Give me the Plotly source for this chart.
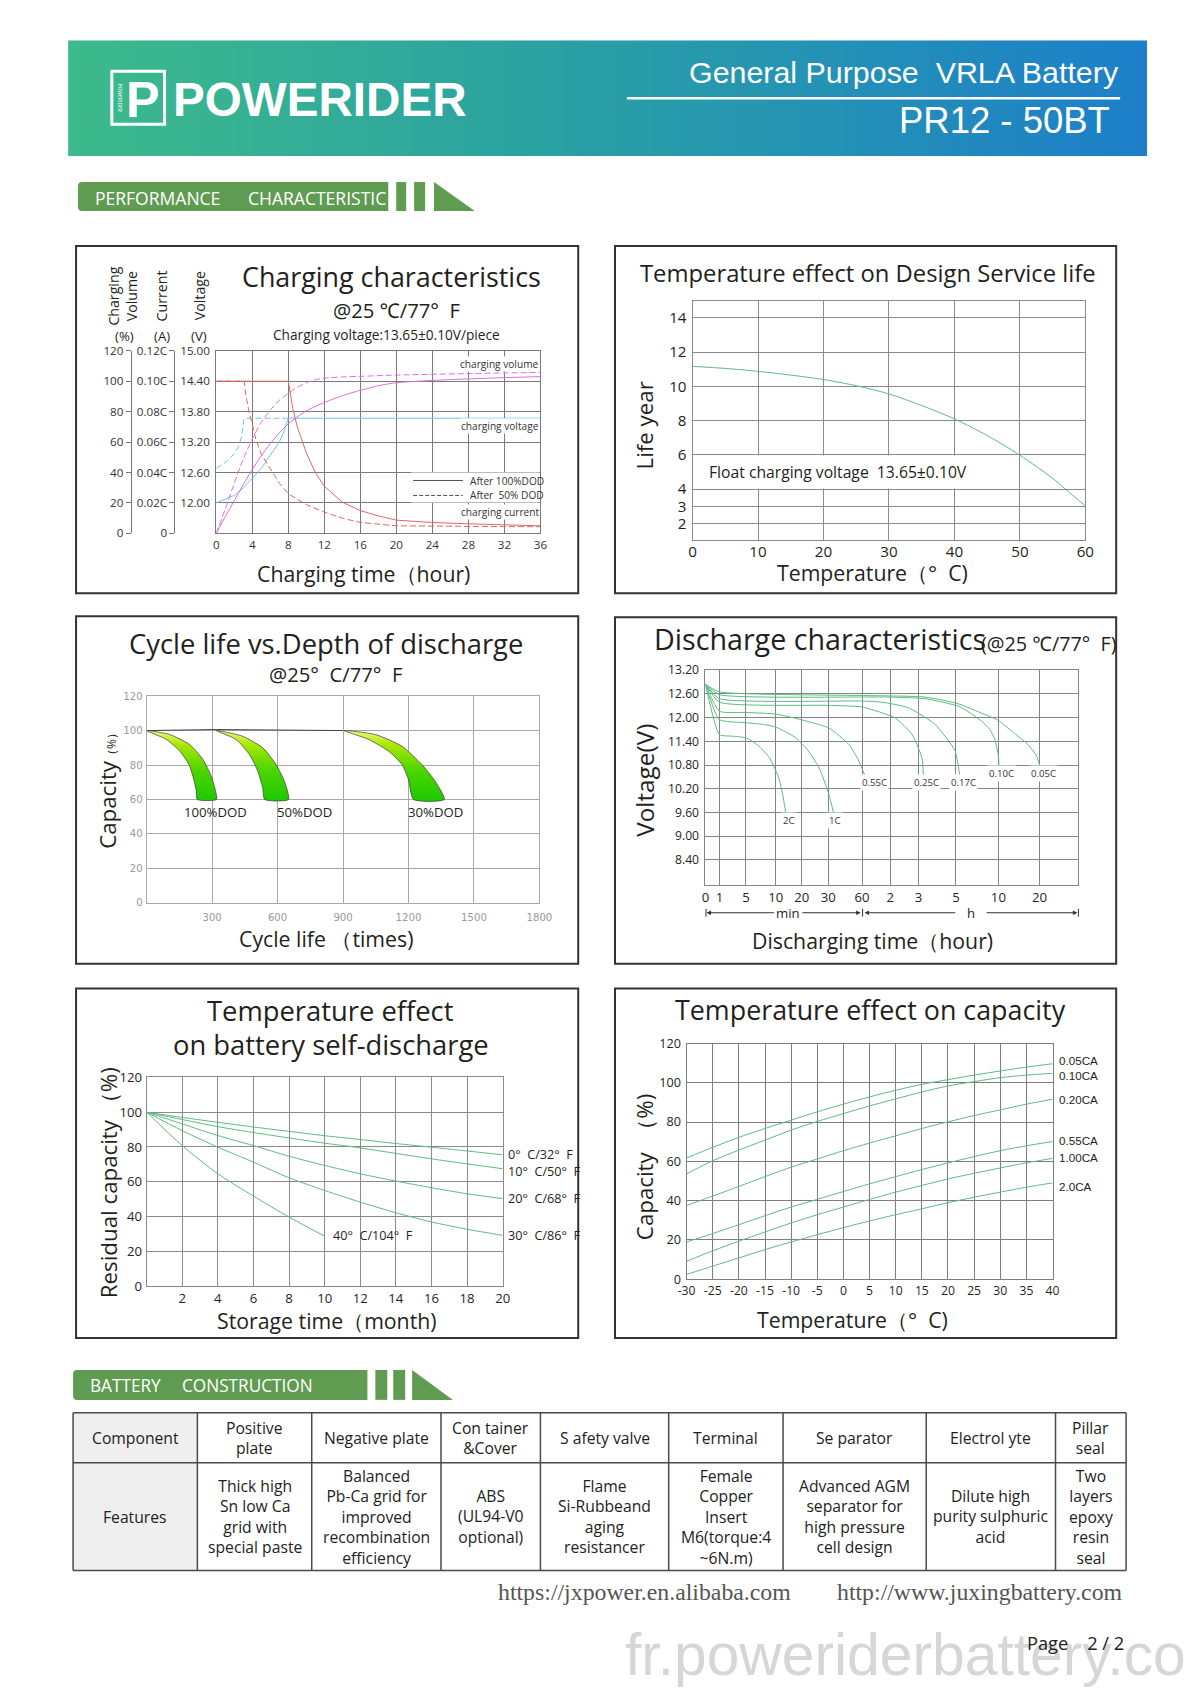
import numpy as np
import plotly.graph_objects as go

# Figure size; reference-image coordinates (px, 1200x1697 page) are mapped onto the
# figure with a calibration measured from earlier renders of this page.
W, H = 1184, 1681
REF_VIEW = 0.921
OUT_VIEW_X, OUT_OFF_X = 0.909, 15.3
OUT_VIEW_Y, OUT_OFF_Y = 0.9122, 17.2
def fx(px): return (REF_VIEW * px - OUT_OFF_X) / (OUT_VIEW_X * W)
def fy(py): return 1 - (REF_VIEW * py - OUT_OFF_Y) / (OUT_VIEW_Y * H)
K = REF_VIEW / OUT_VIEW_X        # reference px -> figure px

SANS = "Open Sans, Noto Sans, DejaVu Sans, sans-serif"
ARIAL = "Liberation Sans, Arial, sans-serif"
SERIF = "Liberation Serif, Times New Roman, serif"
INK = "#231f20"
CURVE = "#5dbb80"

# ---------------- Chart 1: charging characteristics ----------------
vol_solid_h = [0, 1, 2, 3, 4, 5, 6, 7, 8, 10, 12, 14, 16, 18, 20, 24, 28, 32, 36]
vol_solid = [0, 11, 21.5, 32, 42, 51, 59, 66, 72, 80.5, 86, 90.5, 94, 97, 99, 100.5, 101.5, 102.3, 103]
vol_dash_h = [0, 1, 2, 3, 4, 5, 6, 7, 8, 9, 10, 11, 12, 14, 16, 20, 28, 36]
vol_dash = [0, 16, 33, 49, 62, 73, 81, 87.5, 92, 96, 99, 101, 102, 102.8, 103.2, 104, 105, 105.8]
cur_solid_h = [0, 8, 8.5, 9, 10, 11, 12, 14, 16, 18, 20, 24, 28, 32, 36]
cur_solid = [0.100, 0.100, 0.082, 0.070, 0.053, 0.040, 0.031, 0.0205, 0.015, 0.0115, 0.0087, 0.0072, 0.0063, 0.0056, 0.0050]
cur_dash_h = [0, 3.1, 3.3, 3.65, 4.4, 5, 6, 7, 8, 10, 12, 14, 16, 20, 28, 36]
cur_dash = [0.100, 0.100, 0.090, 0.0796, 0.062, 0.052, 0.0425, 0.033, 0.026, 0.019, 0.014, 0.010, 0.0072, 0.0050, 0.0046, 0.0044]
volt_solid_h = [0, 1, 2, 3, 4, 5, 6, 7, 7.5, 8, 36]
volt_solid = [12.00, 12.07, 12.15, 12.30, 12.48, 12.68, 12.94, 13.20, 13.40, 13.67, 13.67]
volt_dash_h = [0, 1, 1.5, 2, 2.5, 2.8, 3.1, 8]
volt_dash = [12.68, 12.80, 12.88, 12.97, 13.12, 13.30, 13.67, 13.67]
chg_hours_ticks = [0, 4, 8, 12, 16, 20, 24, 28, 32, 36]
chg_volt_ticks = [12.00, 12.60, 13.20, 13.80, 14.40, 15.00]
chg_pct_ticks = [0, 20, 40, 60, 80, 100, 120]
chg_cur_ticks = [0, 0.02, 0.04, 0.06, 0.08, 0.10, 0.12]
chg_cur_text = ["0", "0.02C", "0.04C", "0.06C", "0.08C", "0.10C", "0.12C"]

# ---------------- Chart 2: temperature vs design life ----------------
svc_temp = [0, 5, 10, 15, 20, 25, 30, 35, 40, 45, 50, 55, 57, 60]
svc_life = [11.17, 11.05, 10.88, 10.66, 10.40, 10.04, 9.56, 8.88, 8.10, 7.13, 5.98, 4.63, 3.98, 3.02]
svc_yticks = [2, 3, 4, 6, 8, 10, 12, 14]

# ---------------- Chart 3: cycle life vs DOD ----------------
dod_bands = {
    "100%DOD": dict(ox=[0, 106, 197, 258, 296, 316, 320], oy=[100, 97.7, 91.9, 83.2, 73.5, 64.8, 60],
                    ix=[0, 91, 152, 194, 216, 228, 232], iy=[100, 94.8, 88, 80.3, 71.6, 64.8, 60]),
    "50%DOD": dict(ox=[319, 440, 532, 593, 631, 650], oy=[100, 96.7, 90, 80.3, 70.6, 60],
                   ix=[319, 410, 471, 509, 532, 541], iy=[100, 94.8, 86.1, 76.5, 66.8, 60]),
    "30%DOD": dict(ox=[904, 1048, 1170, 1261, 1322, 1364], oy=[100, 97.7, 90.9, 80.3, 70.6, 60],
                   ix=[904, 1018, 1109, 1170, 1200, 1223], iy=[100, 94.8, 88, 80.3, 71.6, 60]),
}
cyc_top_x = [0, 320, 900]
cyc_top_y = [100, 100.6, 100]
cyc_xticks = [300, 600, 900, 1200, 1500, 1800]

# ---------------- Chart 4: discharge characteristics ----------------
disc_tick_min = [0, 1, 5, 10, 20, 30, 60, 120, 180, 300, 600, 1200]
disc_tick_pos = [0, 1.40, 4.07, 7.07, 9.67, 12.33, 15.73, 18.57, 21.40, 25.17, 29.43, 33.57]
disc_tick_text = ["0", "1", "5", "10", "20", "30", "60", "2", "3", "5", "10", "20"]
disc_x_end = 37.47
disc_curves = {
    "0.05C": ([0, 1, 201, 316, 450, 598, 800, 1030, 1150, 1225],
              [12.84, 12.65, 12.52, 12.35, 12.16, 11.93, 11.65, 11.32, 11.05, 10.80]),
    "0.10C": ([0, 1, 120, 201, 316, 400, 481, 540, 575, 603, 608],
              [12.84, 12.58, 12.52, 12.48, 12.29, 12.12, 11.91, 11.70, 11.45, 11.00, 10.80]),
    "0.17C": ([0, 1, 60, 102.5, 158.8, 233, 297, 328],
              [12.84, 12.48, 12.42, 12.39, 12.25, 11.83, 11.16, 10.50]),
    "0.25C": ([0, 1, 30, 60, 130.6, 166, 190.8, 196],
              [12.84, 12.39, 12.31, 12.27, 11.99, 11.58, 10.99, 10.50]),
    "0.55C": ([0, 1, 5, 10, 17.7, 30.6, 48.3, 57.2, 67.2],
              [12.84, 12.16, 12.13, 12.09, 11.98, 11.74, 11.32, 10.90, 10.50]),
    "1C": ([0, 1, 5, 7.8, 10, 17.7, 22, 26.5, 30.6, 33, 34.6],
           [12.84, 11.95, 11.87, 11.83, 11.76, 11.49, 11.20, 10.74, 10.06, 9.80, 9.60]),
    "2C": ([0, 1, 3, 5, 7, 8.9, 11, 12.6, 13.8],
           [12.84, 11.57, 11.53, 11.49, 11.30, 10.99, 10.50, 10.06, 9.60]),
}
disc_yticks = [8.40, 9.00, 9.60, 10.20, 10.80, 11.40, 12.00, 12.60, 13.20]

# ---------------- Chart 5: self-discharge ----------------
sd_month = [0, 2, 4, 6, 8, 10, 12, 14, 16, 18, 20]
sd_0C = [100, 97, 94.2, 91.5, 89, 86.5, 84.3, 82, 79.9, 77.7, 75.5]
sd_10C = [100, 95.8, 91.7, 88.3, 85.2, 82.2, 79.5, 76.3, 73.2, 70.3, 67.5]
sd_20C = [100, 93.3, 86.6, 80.8, 74.7, 69.4, 64.6, 60.4, 56.6, 53.1, 50.3]
sd_30C = [100, 89.4, 79.9, 71.3, 62.3, 55, 48.3, 42.2, 36.9, 32.7, 29.2]
sd_40C_month = [0, 2, 4, 6, 8, 10]
sd_40C = [100, 80.8, 64.6, 51.8, 39.7, 28.7]
sd_xticks = [2, 4, 6, 8, 10, 12, 14, 16, 18, 20]

# ---------------- Chart 6: temperature vs capacity ----------------
tc_temp = [-30, -25, -20, -15, -10, -5, 0, 5, 10, 15, 20, 25, 30, 35, 40]
tc_curves = {
    "0.05CA": [61.7, 67.1, 72.2, 76.7, 81.0, 85.2, 89.1, 92.8, 96.2, 99.2, 101.6, 103.9, 106.0, 108.0, 109.7],
    "0.10CA": [53.6, 60.3, 65.7, 70.8, 75.9, 80.3, 84.3, 88.2, 91.8, 95.3, 98.4, 100.6, 102.6, 103.9, 104.8],
    "0.20CA": [37.5, 42.3, 47.2, 52.2, 57.0, 61.2, 65.4, 69.3, 73.0, 76.7, 80.1, 83.3, 86.2, 89.1, 91.6],
    "0.55CA": [18.9, 23.2, 27.7, 32.3, 36.7, 40.6, 44.6, 48.5, 52.2, 55.8, 59.2, 62.4, 65.4, 67.9, 70.1],
    "1.00CA": [9.1, 14.4, 19.3, 24.0, 28.6, 32.8, 36.7, 40.6, 44.3, 47.7, 51.0, 53.9, 56.6, 59.2, 61.5],
    "2.0CA": [2.4, 6.6, 10.8, 15.0, 18.9, 22.6, 26.2, 29.6, 32.8, 35.8, 38.9, 41.7, 44.3, 46.8, 49.0],
}
tc_xticks = list(range(-30, 41, 5))

# ---------------- Table ----------------
tbl_header = ["Component", "Positive<br>plate", "Negative plate", "Con tainer<br>&Cover", "S afety valve",
              "Terminal", "Se parator", "Electrol yte", "Pillar<br>seal"]
tbl_features = ["Features", "Thick high<br>Sn low Ca<br>grid with<br>special paste",
                "Balanced<br>Pb-Ca grid for<br>improved<br>recombination<br>efficiency",
                "ABS<br>(UL94-V0<br>optional)", "Flame<br>Si-Rubbeand<br>aging<br>resistancer",
                "Female<br>Copper<br>Insert<br>M6(torque:4<br>~6N.m)",
                "Advanced AGM<br>separator for<br>high pressure<br>cell design",
                "Dilute high<br>purity sulphuric<br>acid", "Two<br>layers<br>epoxy<br>resin<br>seal"]

# =====================================================================
fig = go.Figure()
shapes, annots = [], []
axes = {}

def fs(s): return round(s * K, 2)

def text(t, x, y, size, color=INK, family=SANS, xanchor="center", yanchor="middle", angle=0, bg=None, pad=1, **kw):
    d = dict(text=t, x=fx(x), y=fy(y), xref="paper", yref="paper", showarrow=False,
             font=dict(family=family, size=fs(size), color=color), xanchor=xanchor, yanchor=yanchor,
             textangle=angle, borderpad=pad)
    if bg:
        d["bgcolor"] = bg
    d.update(kw)
    annots.append(d)

def rect(x0, y0, x1, y1, line=None, fill=None, lw=1):
    shapes.append(dict(type="rect", xref="paper", yref="paper", x0=fx(x0), x1=fx(x1), y0=fy(y0), y1=fy(y1),
                       line=dict(color=line or "rgba(0,0,0,0)", width=lw if line else 0),
                       fillcolor=fill or "rgba(0,0,0,0)", layer="above"))

def hline(x0, x1, y, color, lw=1, dash="solid"):
    shapes.append(dict(type="line", xref="paper", yref="paper", x0=fx(x0), x1=fx(x1), y0=fy(y), y1=fy(y),
                       line=dict(color=color, width=lw, dash=dash), layer="above"))

def vline(x, y0, y1, color, lw=1):
    shapes.append(dict(type="line", xref="paper", yref="paper", x0=fx(x), x1=fx(x), y0=fy(y0), y1=fy(y1),
                       line=dict(color=color, width=lw), layer="above"))

def path(pts, fill, close=True):
    p = "M " + " L ".join(f"{fx(a):.5f},{fy(b):.5f}" for a, b in pts) + (" Z" if close else "")
    shapes.append(dict(type="path", xref="paper", yref="paper", path=p, fillcolor=fill,
                       line=dict(width=0), layer="above"))

def tf(size, color=INK, family=SANS):
    return dict(family=family, size=fs(size), color=color)

def add_axes(n, xdom, ydom, xr, yr, grid="#808080", xkw=None, ykw=None):
    s = "" if n == 1 else str(n)
    base = dict(showgrid=True, gridcolor=grid, gridwidth=1, zeroline=False, showline=True, mirror=True,
                linecolor=grid, linewidth=1, ticks="", fixedrange=True)
    xa = dict(base, domain=[fx(xdom[0]), fx(xdom[1])], range=xr, anchor="y" + s)
    ya = dict(base, domain=[fy(ydom[1]), fy(ydom[0])], range=yr, anchor="x" + s)
    xa.update(xkw or {})
    ya.update(ykw or {})
    axes["xaxis" + s] = xa
    axes["yaxis" + s] = ya

def line(x, y, xa, ya, color=CURVE, width=1, dash="solid", shape="linear", smoothing=1):
    fig.add_trace(go.Scatter(x=x, y=y, xaxis=xa, yaxis=ya, mode="lines",
                             line=dict(color=color, width=width, dash=dash, shape=shape, smoothing=smoothing),
                             hoverinfo="skip", showlegend=False))

# ---------------- header banner ----------------
banner_scale = [[0, "#3dba8b"], [0.45, "#2aa1a3"], [1, "#1d7fca"]]
fig.add_trace(go.Heatmap(z=[list(np.linspace(0, 1, 80))], colorscale=banner_scale, showscale=False,
                         zsmooth="best", hoverinfo="skip", xaxis="x7", yaxis="y7"))
axes["xaxis7"] = dict(domain=[fx(68), fx(1153)], range=[0, 79], visible=False, fixedrange=True, anchor="y7")
axes["yaxis7"] = dict(domain=[fy(157), fy(41)], range=[-0.5, 0.5], visible=False, fixedrange=True, anchor="x7")

rect(112, 72, 165, 125, line="white", lw=3)
text("<b>P</b>", 143, 100, 50, color="white", family=ARIAL)
text("POWERIDER", 120, 99, 5, color="white", family=SANS, angle=90)
text("<b>POWERIDER</b>", 171, 100, 47, color="white", family=ARIAL, xanchor="left")
text("General Purpose\u00a0\u00a0VRLA Battery", 1127, 73, 30, color="white", family=ARIAL, xanchor="right")
hline(630, 1126, 99, "white", lw=2.5)
text("PR12 - 50BT", 1118, 121, 36, color="white", family=ARIAL, xanchor="right")

# ---------------- section bars ----------------
SEC = "#5f9c52"
def section(x0, x1, y0, y1, b1, b2, t0, t1, label1, lx1, label2, lx2, size):
    r = 4
    p = (f"M {fx(x0 + r)},{fy(y0)} L {fx(x1)},{fy(y0)} L {fx(x1)},{fy(y1)} L {fx(x0 + r)},{fy(y1)} "
         f"Q {fx(x0)},{fy(y1)} {fx(x0)},{fy(y1 - r)} L {fx(x0)},{fy(y0 + r)} Q {fx(x0)},{fy(y0)} {fx(x0 + r)},{fy(y0)} Z")
    shapes.append(dict(type="path", xref="paper", yref="paper", path=p, fillcolor=SEC, line=dict(width=0), layer="above"))
    rect(b1[0], y0, b1[1], y1, fill=SEC)
    rect(b2[0], y0, b2[1], y1, fill=SEC)
    path([(t0, y0), (t0, y1), (t1, y1)], SEC)
    text(label1, lx1, (y0 + y1) / 2 + 1, size, color="white", xanchor="left")
    text(label2, lx2, (y0 + y1) / 2 + 1, size, color="white", xanchor="left")

section(78, 390, 183, 212, (398, 408), (416, 427), 436, 477, "PERFORMANCE", 93, "CHARACTERISTIC", 247, 17.3)
section(73, 369, 1373, 1403, (377, 389), (395, 407), 414, 455, "BATTERY", 88, "CONSTRUCTION", 181, 17)

# ---------------- panel borders ----------------
for (a, b, c, d) in [(76, 247, 581, 595), (618, 247, 1122, 595), (76, 618, 581, 966),
                     (618, 619, 1122, 966), (76, 991, 581, 1341), (618, 991, 1122, 1341)]:
    rect(a, b, c, d, line="#333333", lw=2)

# ---------------- Chart 1 ----------------
add_axes(1, (217, 543), (352, 535), [0, 36], [11.40, 15.00], grid="#7a7a7a",
         xkw=dict(tickvals=chg_hours_ticks, tickfont=tf(11.5, "#333"), ticklabelstandoff=1),
         ykw=dict(tickvals=chg_volt_ticks, tickformat=".2f", tickfont=tf(11.5, "#333"), ticklabelstandoff=3))
axes["yaxis8"] = dict(overlaying="y", anchor="free", position=fx(131), range=[0, 120], tickvals=chg_pct_ticks,
                      showgrid=False, zeroline=False, showline=True, linecolor="#777", ticks="outside", ticklen=5,
                      tickcolor="#777", tickfont=tf(11.5, "#333"), fixedrange=True)
axes["yaxis9"] = dict(overlaying="y", anchor="free", position=fx(175), range=[0, 0.12], tickvals=chg_cur_ticks,
                      ticktext=chg_cur_text, showgrid=False, zeroline=False, showline=True, linecolor="#777",
                      ticks="outside", ticklen=5, tickcolor="#777", tickfont=tf(11.5, "#333"), fixedrange=True)
VOLC, CURC, VTC = "#dd6ddd", "#e06868", "#6cc8ea"
line(volt_dash_h, volt_dash, "x", "y", color=VTC, dash="6px,3px")
line(volt_solid_h, volt_solid, "x", "y", color=VTC)
line(vol_dash_h, vol_dash, "x", "y8", color=VOLC, dash="6px,3px", shape="spline", smoothing=0.6)
line(vol_solid_h, vol_solid, "x", "y8", color=VOLC, shape="spline", smoothing=0.6)
line(cur_dash_h, cur_dash, "x", "y9", color=CURC, dash="6px,3px")
line(cur_solid_h, cur_solid, "x", "y9", color=CURC)

text("Charging characteristics", 393, 278, 26.5)
text("@25 ℃/77°\u00a0 F", 398, 311, 20)
text("Charging voltage:13.65±0.10V/piece", 388, 336, 13.5)
text("Charging<br>Volume", 123, 297, 14, angle=-90)
text("(%)", 125, 337, 13)
text("Current", 162, 297, 14, angle=-90)
text("(A)", 162, 337, 13)
text("Voltage", 200, 297, 14, angle=-90)
text("(V)", 200, 337, 13)
text("Charging time（hour)", 365, 575, 21)
text("charging volume", 543, 365, 10, color="#333", xanchor="right", bg="white", pad=0)
text("charging voltage", 543, 427, 10, color="#333", xanchor="right", bg="white", pad=0)
text("charging current", 543, 514, 10, color="#333", xanchor="right", bg="white", pad=0)
rect(413, 474, 542, 504, fill="white")
hline(415, 465, 482, "#555", lw=1)
hline(415, 465, 497, "#555", lw=1, dash="4px,2px")
text("After 100%DOD", 470, 482, 10, color="#333", xanchor="left")
text("After\u00a0 50% DOD", 470, 497, 10, color="#333", xanchor="left")

# ---------------- Chart 2 ----------------
add_axes(2, (696, 1091), (302, 542), [0, 60], [1, 15], grid="#8a8a8a",
         xkw=dict(dtick=10, tickfont=tf(15), ticklabelstandoff=-3),
         ykw=dict(tickvals=svc_yticks, tickfont=tf(15), ticklabelstandoff=2))
line(svc_temp, svc_life, "x2", "y2", shape="spline", smoothing=0.8)
text("Temperature effect on Design Service life", 872, 274, 23.5)
text("Float charging voltage\u00a0 13.65±0.10V", 706, 473, 15.5, xanchor="left", bg="white", pad=5)
text("Life year", 648, 427, 22, angle=-90)
text("Temperature（°\u00a0 C)", 877, 574, 21)

# ---------------- Chart 3 ----------------
DJV = "DejaVu Sans, sans-serif"
add_axes(3, (147, 542), (698, 905), [0, 1800], [0, 120], grid="#a8a8a8",
         xkw=dict(tickvals=cyc_xticks, tickfont=tf(10, "#999", DJV), ticklabelstandoff=5),
         ykw=dict(dtick=20, tickfont=tf(10, "#999", DJV), ticklabelstandoff=1))
band_scale = [[0, "#1ec800"], [0.45, "#4fd600"], [0.8, "#a8e800"], [1, "#f4f47a"]]
for name, b in dod_bands.items():
    xs = b["ox"] + b["ix"][::-1]
    ys = b["oy"] + b["iy"][::-1]
    fig.add_trace(go.Scatter(x=xs, y=ys, xaxis="x3", yaxis="y3", mode="lines", fill="toself",
                             fillgradient=dict(type="vertical", colorscale=band_scale, start=60, stop=100),
                             line=dict(color="#3a3a3a", width=0.7, shape="spline", smoothing=0.6),
                             hoverinfo="skip", showlegend=False))
line(cyc_top_x, cyc_top_y, "x3", "y3", color="#444", width=1)
text("Cycle life vs.Depth of discharge", 327, 645, 27)
text("@25°\u00a0 C/77°\u00a0 F", 337, 676, 20)
text("100%DOD", 216, 814, 13)
text("50%DOD", 306, 814, 13)
text("30%DOD", 437, 814, 13)
text("Capacity<span style='font-size:12px'>（%）</span>", 108, 790, 22, angle=-90)
text("Cycle life （times)", 327, 941, 21)

# ---------------- Chart 4 ----------------
add_axes(4, (709, 1084), (672, 887), [0, disc_x_end], [7.77, 13.2], grid="#858585",
         xkw=dict(tickvals=disc_tick_pos, ticktext=disc_tick_text, tickfont=tf(13), ticklabelstandoff=0),
         ykw=dict(tickvals=disc_yticks, tickformat=".2f", tickfont=tf(12), ticklabelstandoff=3))
for name, (mins, volts) in disc_curves.items():
    pos = np.interp(mins, disc_tick_min, disc_tick_pos)
    line(list(pos), volts, "x4", "y4", shape="spline", smoothing=0.5)
disc_labels = {"2C": (793, 823), "1C": (839, 823), "0.55C": (879, 785), "0.25C": (931, 785),
               "0.17C": (968, 785), "0.10C": (1007, 776), "0.05C": (1049, 776)}
for k, (a, b) in disc_labels.items():
    text(k, a, b, 9.5, color="#333", bg="white", pad=1)
text("Discharge characteristics", 655, 640, 28.3, xanchor="left")
text("(@25 ℃/77°\u00a0 F)", 984, 645, 19.5, xanchor="left")
text("Voltage(V)", 648, 782, 24, angle=-90)
text("Discharging time（hour)", 877, 943, 21)
def arrow(xh, xt, y):
    annots.append(dict(x=fx(xh), y=fy(y), xref="paper", yref="paper", ax=(xt - xh) * K, ay=0, text="",
                       showarrow=True, arrowhead=2, arrowsize=0.9, arrowwidth=1, arrowcolor="#333"))
arrow(710, 778, 915); arrow(865, 806, 915)
arrow(869, 960, 915); arrow(1083, 992, 915)
for xv in (709.5, 867, 1084):
    vline(xv, 911, 919, "#333")
text("min", 792, 915, 13)
text("h", 976, 915, 13)

# ---------------- Chart 5 ----------------
add_axes(5, (147, 505), (1080, 1289), [0, 20], [0, 120], grid="#8a8a8a",
         xkw=dict(tickvals=sd_xticks, tickfont=tf(13), ticklabelstandoff=0),
         ykw=dict(dtick=20, tickfont=tf(13), ticklabelstandoff=1))
for ys in (sd_0C, sd_10C, sd_20C, sd_30C):
    line(sd_month, ys, "x5", "y5", shape="spline", smoothing=0.8)
line(sd_40C_month, sd_40C, "x5", "y5", shape="spline", smoothing=0.8)
text("0°\u00a0 C/32°\u00a0 F", 508, 1157, 12.5, xanchor="left")
text("10°\u00a0 C/50°\u00a0 F", 508, 1174, 12.5, xanchor="left")
text("20°\u00a0 C/68°\u00a0 F", 508, 1201, 12.5, xanchor="left")
text("30°\u00a0 C/86°\u00a0 F", 508, 1238, 12.5, xanchor="left")
text("40°\u00a0 C/104°\u00a0 F", 332, 1238, 12.5, xanchor="left")
text("Temperature effect", 332, 1013, 27)
text("on battery self-discharge", 332, 1047, 27)
text("Residual capacity\u00a0（%)", 108, 1185, 22, angle=-90)
text("Storage time（month)", 328, 1323, 21)

# ---------------- Chart 6 ----------------
add_axes(6, (690, 1058), (1046, 1282), [-30, 40], [0, 120], grid="#7d7d7d",
         xkw=dict(tickvals=tc_xticks, ticktext=[str(t) for t in tc_xticks], tickfont=tf(12), ticklabelstandoff=0),
         ykw=dict(dtick=20, tickfont=tf(12.5), ticklabelstandoff=2))
tc_label_y = {"0.05CA": 1063, "0.10CA": 1078, "0.20CA": 1102, "0.55CA": 1143, "1.00CA": 1160, "2.0CA": 1189}
for name, vals in tc_curves.items():
    line(tc_temp, vals, "x6", "y6", shape="spline", smoothing=0.8)
    text(name, 1062, tc_label_y[name], 11.5, family=ARIAL, xanchor="left", color=INK)
text("Temperature effect on capacity", 875, 1012, 26.5)
text("Capacity\u00a0 （%)", 647, 1170, 22, angle=-90)
text("Temperature（°\u00a0 C)", 857, 1322, 21)

# ---------------- Table ----------------
cols = [73, 198, 313, 443, 543, 672, 787, 931, 1061, 1132]
rows = [1416, 1466, 1574]
rect(cols[0], rows[0], cols[1], rows[2], fill="#efefef")
for i in range(len(tbl_header)):
    cx = (cols[i] + cols[i + 1]) / 2
    text(tbl_header[i], cx, (rows[0] + rows[1]) / 2, 15.5, color="#222")
    text(tbl_features[i], cx, (rows[1] + rows[2]) / 2, 15.5, color="#222")
for c in cols:
    vline(c, rows[0], rows[2], "#4a4a4a", lw=1.5)
for r in rows:
    hline(cols[0], cols[-1], r, "#4a4a4a", lw=1.5)

# ---------------- footer ----------------
text("https://jxpower.en.alibaba.com", 498, 1595, 23.5, color="#555", family=SERIF, xanchor="left")
text("http://www.juxingbattery.com", 839, 1595, 23.5, color="#555", family=SERIF, xanchor="left")
wm_left = fx(626)
annots.append(dict(text="fr.poweriderbattery.com", x=wm_left, y=fy(1658), xref="paper", yref="paper",
                   showarrow=False, xanchor="left", yanchor="middle", align="left",
                   width=int((1 - wm_left) * W) - 2, height=int(66 * K),
                   font=dict(family=ARIAL, size=fs(58), color="#d6d6d6")))
text("Page\u00a0\u00a0\u00a0 2 / 2", 1030, 1647, 18, color="#222", xanchor="left")

fig.update_layout(width=W, height=H, margin=dict(l=0, r=0, t=0, b=0), paper_bgcolor="white",
                  plot_bgcolor="rgba(0,0,0,0)", showlegend=False, shapes=shapes, annotations=annots, **axes)

fig.write_html("out.html", config={"displayModeBar": False, "staticPlot": True})
